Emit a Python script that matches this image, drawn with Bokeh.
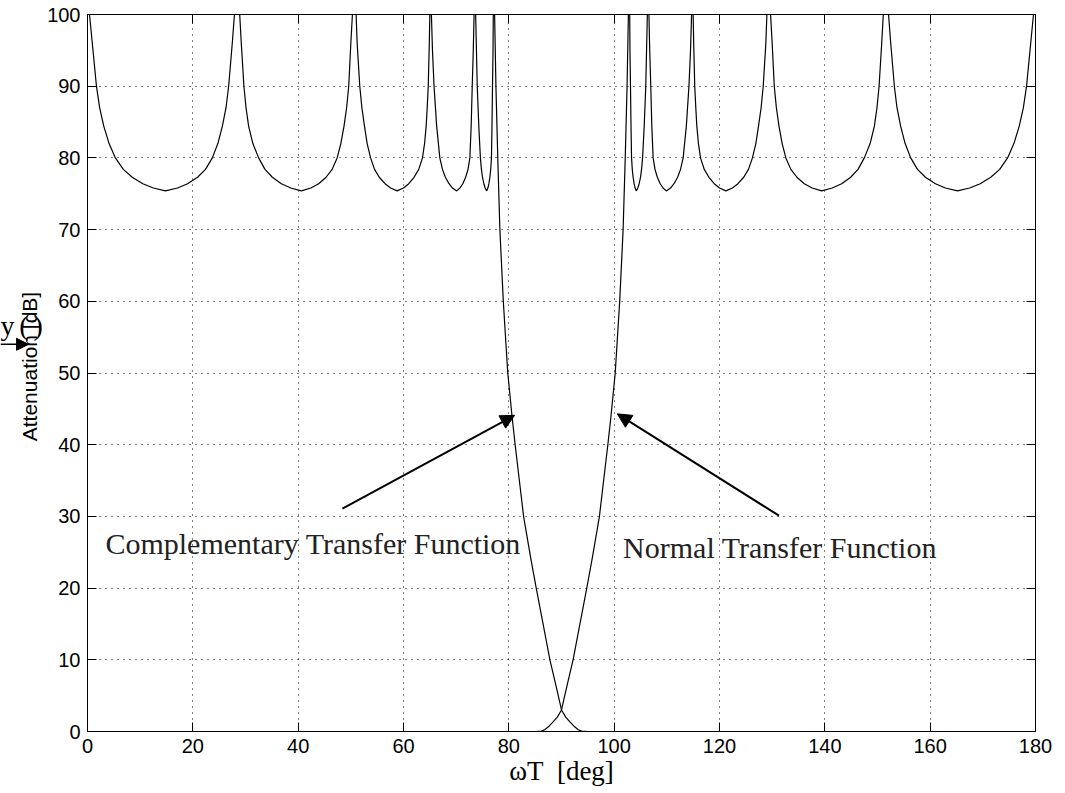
import math
from bokeh.plotting import figure
from bokeh.layouts import row
from bokeh.models import Range1d, LinearAxis, FixedTicker, Label, Arrow, NormalHead, CustomJSTickFormatter
from bokeh.core.properties import value
from bokeh.embed import file_html
from bokeh.resources import INLINE

# ---- data ----
x_ticks = [0, 20, 40, 60, 80, 100, 120, 140, 160, 180]
y_ticks = [0, 10, 20, 30, 40, 50, 60, 70, 80, 90, 100]

# Complementary transfer function (attenuation, dB) vs wT (deg)
comp_x = [0.0, 0.38, 0.9, 1.7, 2.3, 3.1, 4.1, 5.3, 6.8, 8.5, 10.5, 12.5, 14.8, 17.1, 19.0, 20.9, 22.4, 23.7, 24.75, 25.6, 26.3, 26.8, 27.5, 27.9, 28.5,
          28.9, 29.2, 29.7, 30.1, 30.6, 31.4, 32.5, 33.7, 35.1, 36.8, 38.6, 40.6, 42.4, 43.9, 45.3, 46.45, 47.4, 48.1, 48.7, 49.2, 49.6, 50.0, 50.3, 50.6,
          51.0, 51.2, 51.7, 52.1, 52.6, 53.1, 53.75, 54.5, 55.4, 56.5, 57.55, 58.8, 60.0, 61.0, 62.0, 62.9, 63.6, 64.0, 64.3, 64.5, 64.7, 64.9, 65.0, 65.15,
          65.3, 65.5, 65.8, 66.3, 66.9, 67.4, 67.95, 68.64, 69.3, 70.1, 70.72, 71.26, 71.8, 72.25, 72.6, 72.85, 73.05, 73.25, 73.4, 73.5,
          73.7, 73.85, 74.0, 74.3, 74.6, 74.8, 75.0, 75.26, 75.5, 75.8, 76.02, 76.21, 76.4, 76.56, 76.7, 76.8, 76.9, 77.0, 77.05, 77.15,
          77.3, 77.55, 77.9, 78.3, 78.95, 79.8, 80.6, 81.2, 82.0, 82.8, 84.2, 85.2, 86.5, 87.8, 88.95, 90.0, 90.8, 91.6, 92.5, 93.2, 93.8, 95.0, 180.0]
comp_y = [105, 100, 96.1, 90, 87, 84.4, 82, 80, 78.4, 77.3, 76.4, 75.8, 75.4, 75.8, 76.4, 77.3, 78.4, 80, 82, 84.4, 87, 90, 96.1, 100, 105,
          100, 96, 90, 87, 84.4, 82, 80, 78.4, 77.3, 76.4, 75.8, 75.4, 75.8, 76.4, 77.3, 78.4, 80, 82, 84.4, 87, 90, 96, 100, 105,
          100, 96, 90, 87, 84.4, 82, 80, 78.4, 77.3, 76.4, 75.8, 75.4, 75.8, 76.4, 77.3, 78.4, 80, 82, 84.4, 87, 90, 96, 100, 105,
          100, 95, 90, 84.4, 80, 78.4, 77.3, 76.4, 75.8, 75.4, 75.8, 76.4, 77.3, 78.4, 80, 84.4, 90, 95, 100, 105,
          100, 95, 90, 84.4, 80, 78.4, 77.3, 76.4, 75.8, 75.4, 75.8, 76.4, 77.3, 78.4, 80, 84.4, 90, 95, 100, 105,
          100, 90, 80, 70, 60, 50, 44, 40, 35, 30, 24, 20, 15, 10, 6.4, 3.0, 2.0, 1.35, 0.65, 0.25, 0.05, 0, 0]

# Normal transfer function
norm_x = [0.0, 85.0, 86.2, 86.8, 87.5, 88.4, 89.2, 90.0, 91.05, 92.2, 93.5, 94.8, 95.8, 97.2, 98.0, 98.8, 99.4, 100.2, 101.05, 101.7, 102.1, 102.45, 102.7, 102.85,
          102.95, 103.0, 103.1, 103.2, 103.3, 103.44, 103.6, 103.79, 103.98, 104.2, 104.5, 104.74, 105.0, 105.2, 105.4, 105.7, 106.0, 106.15, 106.3, 106.5,
          106.6, 106.75, 106.95, 107.15, 107.4, 107.75, 108.2, 108.74, 109.28, 109.9, 110.7, 111.36, 112.05, 112.6, 113.1, 113.7, 114.2, 114.5, 114.7, 114.85,
          115.0, 115.1, 115.3, 115.5, 115.7, 116.0, 116.4, 117.1, 118.0, 119.0, 120.0, 121.2, 122.45, 123.5, 124.6, 125.5, 126.25, 126.9, 127.4, 127.9, 128.3, 128.8, 129.0, 129.4,
          129.7, 130.0, 130.4, 130.8, 131.3, 131.9, 132.6, 133.55, 134.7, 136.1, 137.6, 139.4, 141.4, 143.2, 144.9, 146.3, 147.5, 148.6, 149.4, 149.9, 150.3, 150.8, 151.1, 151.5,
          152.1, 152.5, 153.2, 153.7, 154.4, 155.25, 156.3, 157.6, 159.1, 161.0, 162.9, 165.2, 167.5, 169.5, 171.5, 173.2, 174.7, 175.9, 176.9, 177.7, 178.3, 179.1, 179.62, 180.0]
norm_y = [0, 0, 0.05, 0.25, 0.65, 1.35, 2.0, 3.0, 6.4, 10, 15, 20, 24, 30, 35, 40, 44, 50, 60, 70, 80, 90, 100, 105,
          100, 95, 90, 84.4, 80, 78.4, 77.3, 76.4, 75.8, 75.4, 75.8, 76.4, 77.3, 78.4, 80, 84.4, 90, 95, 100, 105,
          100, 95, 90, 84.4, 80, 78.4, 77.3, 76.4, 75.8, 75.4, 75.8, 76.4, 77.3, 78.4, 80, 84.4, 90, 95, 100, 105,
          100, 96, 90, 87, 84.4, 82, 80, 78.4, 77.3, 76.4, 75.8, 75.4, 75.8, 76.4, 77.3, 78.4, 80, 82, 84.4, 87, 90, 96, 100, 105,
          100, 96, 90, 87, 84.4, 82, 80, 78.4, 77.3, 76.4, 75.8, 75.4, 75.8, 76.4, 77.3, 78.4, 80, 82, 84.4, 87, 90, 96, 100, 105,
          100, 96.1, 90, 87, 84.4, 82, 80, 78.4, 77.3, 76.4, 75.8, 75.4, 75.8, 76.4, 77.3, 78.4, 80, 82, 84.4, 87, 90, 96.1, 100, 105]

x_title = "\u03c9T\u00a0 [deg]"
y_title = "Attenuation [dB]"
comp_text = "Complementary Transfer Function"
norm_text = "Normal Transfer Function"

H = 792
SIDE_W = 44

# ---- main figure ----
p = figure(frame_width=948, frame_height=717,
           min_border_left=87 - SIDE_W, min_border_right=25, min_border_top=14, min_border_bottom=61,
           x_range=Range1d(0, 180), y_range=Range1d(0, 100),
           output_backend="svg", toolbar_location=None)
p.background_fill_color = "white"
p.border_fill_color = "white"
p.outline_line_color = "black"
p.outline_line_width = 1

for ax, ticks in ((p.xaxis[0], x_ticks), (p.yaxis[0], y_ticks)):
    ax.ticker = FixedTicker(ticks=ticks)
    ax.major_label_text_font = "Liberation Sans"
    ax.major_label_text_font_size = "20px"
    ax.major_label_text_color = "black"
    ax.major_tick_in = 9
    ax.major_tick_out = 0
    ax.minor_tick_line_color = None
    ax.axis_line_color = "black"
    ax.major_tick_line_color = "black"
p.xaxis.major_label_standoff = 7
p.yaxis.major_label_standoff = 7
p.xaxis.axis_label = x_title
p.xaxis.axis_label_text_font = "Liberation Serif"
p.xaxis.axis_label_text_font_size = "27px"
p.xaxis.axis_label_text_font_style = "normal"
p.xaxis.axis_label_text_color = "black"
p.xaxis.axis_label_standoff = 0

blank = CustomJSTickFormatter(code="return ''")
top = LinearAxis(ticker=FixedTicker(ticks=x_ticks), formatter=blank,
                 major_label_text_font_size="0px", major_label_standoff=0,
                 major_tick_in=9, major_tick_out=0, minor_tick_line_color=None,
                 axis_line_color="black", major_tick_line_color="black")
right = LinearAxis(ticker=FixedTicker(ticks=y_ticks), formatter=blank,
                   major_label_text_font_size="0px", major_label_standoff=0,
                   major_tick_in=9, major_tick_out=0, minor_tick_line_color=None,
                   axis_line_color="black", major_tick_line_color="black")
p.add_layout(top, "above")
p.add_layout(right, "right")

p.xgrid.ticker = FixedTicker(ticks=x_ticks)
p.ygrid.ticker = FixedTicker(ticks=y_ticks)
for g in (p.xgrid[0], p.ygrid[0]):
    g.grid_line_color = "black"
    g.grid_line_dash = "1 5"
    g.grid_line_width = 1

p.line(comp_x, comp_y, line_color="black", line_width=1.2)
p.line(norm_x, norm_y, line_color="black", line_width=1.2)

p.add_layout(Label(x=3.4, y=26.2, text=comp_text, text_font="Liberation Serif",
                   text_font_size="30px", text_color="#222222", text_baseline="alphabetic"))
p.add_layout(Label(x=101.7, y=25.6, text=norm_text, text_font="Liberation Serif",
                   text_font_size="30px", text_color="#222222", text_baseline="alphabetic"))

p.add_layout(Arrow(x_start=48.4, y_start=31.1, x_end=81.1, y_end=44.1, line_width=2,
                   end=NormalHead(size=14, fill_color="black", line_color="black")))
p.add_layout(Arrow(x_start=131.3, y_start=30.1, x_end=100.6, y_end=44.3, line_width=2,
                   end=NormalHead(size=14, fill_color="black", line_color="black")))

# ---- narrow left strip holding the (overlapping) y-axis title texts ----
# its frame is aligned with the main frame, so it shares the dB scale vertically
s = figure(width=SIDE_W, height=H, x_range=Range1d(0, SIDE_W), y_range=Range1d(0, 100),
           x_axis_location=None, y_axis_location=None, min_border=0,
           output_backend="svg", toolbar_location=None)
s.outline_line_color = None
s.grid.visible = False
s.background_fill_color = "white"
s.border_fill_color = "white"

s.text(x=[29], y=[50.9], text=[y_title], angle=math.pi / 2,
       text_font=value("Liberation Sans"), text_font_size="21px",
       text_align="center", text_baseline="middle", text_color="black")
s.text(x=[14], y=[56.6], text=["y"], text_font=value("Liberation Serif"),
       text_font_size="28px", text_align="right", text_baseline="alphabetic", text_color="black")
s.text(x=[28], y=[56.6], text=["("], text_font=value("Liberation Serif"),
       text_font_size="28px", text_align="right", text_baseline="alphabetic", text_color="black")
s.text(x=[33], y=[56.6], text=[")"], text_font=value("Liberation Serif"),
       text_font_size="28px", text_align="left", text_baseline="alphabetic", text_color="black")
s.add_layout(Arrow(x_start=0, y_start=54.0, x_end=28, y_end=54.0, line_width=1.5,
                   end=NormalHead(size=12, fill_color="black", line_color="black")))

layout = row(s, p)
open("out.html", "w").write(file_html(layout, INLINE))
